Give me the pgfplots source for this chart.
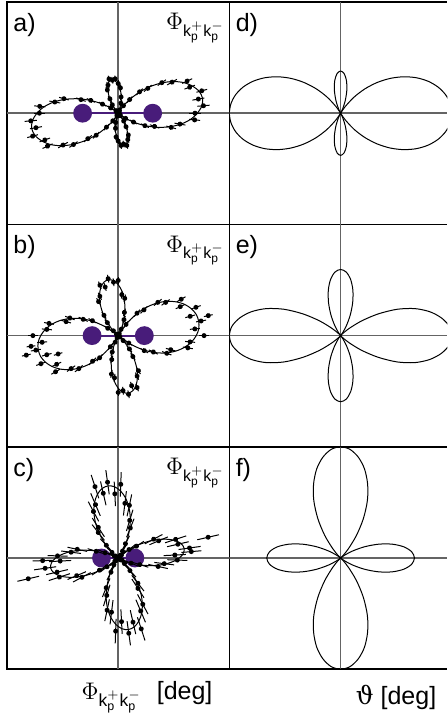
\documentclass[border=0pt]{standalone}
\usepackage{amsmath}
\usepackage{fontspec}
\setmainfont{Liberation Sans}
\newfontfamily\dvs{DejaVu Serif}
\usepackage{pgfplots}
\pgfplotsset{compat=1.18}
\definecolor{dumb}{RGB}{72,28,122}
\definecolor{cross}{RGB}{100,100,100}
\newdimen\ulen \ulen=55.6pt
\pgfdeclareplotmark{rbar}{%
  \pgftransformrotate{\ang}%
  \pgfpathmoveto{\pgfqpoint{-\err\ulen}{0pt}}%
  \pgfpathlineto{\pgfqpoint{\err\ulen}{0pt}}%
  \pgfusepathqstroke
  \pgfpathcircle{\pgfpointorigin}{1.25pt}%
  \pgfusepathqfill
}
\pgfplotsset{
  panel/.style={scale only axis, width=111.2pt, height=111.2pt,
    xmin=-1, xmax=1, ymin=-1, ymax=1, xtick=\empty, ytick=\empty,
    axis line style={line width=0.8pt, black}, clip=true},
  rpanel/.style={panel, width=108.98pt, xmax=0.96, axis x line*=box, axis y line*=left},
  fit/.style={black, line width=0.5pt, smooth, data cs=polar, mark=none},
  pts/.style={scatter, only marks, mark=rbar, data cs=polar, line width=0.5pt,
    scatter/use mapped color={draw=black, fill=black},
    visualization depends on={value \thisrow{t} \as \ang},
    visualization depends on={value \thisrow{e} \as \err}},
  crossl/.style={cross, line width=0.8pt},
}
\newcommand{\phisub}{$\Phi_{\text{k}^{+}_{\text{p}}\text{k}^{-}_{\text{p}}}$}
\newcommand{\lblfont}{\fontsize{12.5}{15}\selectfont}
\begin{document}
\begin{tikzpicture}
\useasboundingbox (0,0) rectangle (224pt,-357pt);
% ---------------- panel a
\begin{axis}[panel, at={(3.5pt,-1pt)}, anchor=north west]
\addplot[crossl] coordinates {(-1,0) (1,0)};
\addplot[crossl] coordinates {(0,-1) (0,1)};
\addplot[dumb, line width=1pt, mark=*, mark size=4.2pt, mark options={fill=dumb, draw=dumb}] coordinates {(-0.32,0) (0.31,0)};
\addplot[fit] coordinates {(-45,0) (-40,0.023) (-35,0.077) (-30,0.162) (-25,0.262) (-20,0.370) (-15,0.474) (-10,0.570) (-5,0.651) (0,0.712) (5,0.755) (10,0.770) (15,0.755) (20,0.712) (25,0.651) (30,0.570) (35,0.474) (40,0.370) (45,0.262) (50,0.162) (55,0.077) (60,0.023) (65,0)};
\addplot[fit] coordinates {(135,0) (140,0.024) (145,0.079) (150,0.166) (155,0.269) (160,0.379) (165,0.486) (170,0.585) (175,0.668) (180,0.731) (185,0.774) (190,0.790) (195,0.774) (200,0.731) (205,0.668) (210,0.585) (215,0.486) (220,0.379) (225,0.269) (230,0.166) (235,0.079) (240,0.024) (245,0)};
\addplot[fit] coordinates {(65,0) (70,0.032) (75,0.090) (80,0.154) (85,0.218) (90,0.272) (95,0.307) (100,0.320) (105,0.307) (110,0.272) (115,0.218) (120,0.154) (125,0.090) (130,0.032) (135,0)};
\addplot[fit] coordinates {(245,0) (250,0.030) (255,0.084) (260,0.144) (265,0.204) (270,0.255) (275,0.288) (280,0.300) (285,0.288) (290,0.255) (295,0.204) (300,0.144) (305,0.084) (310,0.030) (315,0)};
\addplot[pts] table {
t r e
-45 0.010 0.03
-40 0.022 0.03
-35 0.081 0.03
-30 0.159 0.035
-25 0.265 0.04
-20 0.348 0.045
-15 0.493 0.045
-10 0.564 0.05
-5 0.690 0.05
0 0.691 0.05
5 0.770 0.055
10 0.732 0.055
15 0.778 0.05
20 0.684 0.05
25 0.684 0.05
30 0.559 0.05
35 0.479 0.045
40 0.348 0.045
45 0.272 0.04
50 0.160 0.035
55 0.082 0.03
60 0.022 0.03
65 0.012 0.03
70 0.030 0.03
75 0.093 0.03
80 0.148 0.03
85 0.229 0.03
90 0.267 0.03
95 0.310 0.03
100 0.301 0.03
105 0.319 0.03
110 0.269 0.03
115 0.231 0.03
120 0.149 0.03
125 0.092 0.03
130 0.030 0.03
135 0.010 0.03
140 0.023 0.03
145 0.083 0.03
150 0.163 0.035
155 0.272 0.04
160 0.356 0.045
165 0.505 0.045
170 0.579 0.05
175 0.708 0.05
180 0.709 0.05
185 0.789 0.055
190 0.751 0.055
195 0.797 0.05
200 0.702 0.05
205 0.701 0.05
210 0.573 0.05
215 0.491 0.045
220 0.356 0.045
225 0.280 0.04
230 0.164 0.035
235 0.084 0.03
240 0.023 0.03
245 0.010 0.03
250 0.029 0.03
255 0.087 0.03
260 0.138 0.03
265 0.214 0.03
270 0.250 0.03
275 0.291 0.03
280 0.282 0.03
285 0.300 0.03
290 0.252 0.03
295 0.216 0.03
300 0.140 0.03
305 0.086 0.03
310 0.029 0.03
};
\node[anchor=north west, inner sep=0pt, font=\lblfont] at (rel axis cs:0,1) [xshift=3pt, yshift=-5.5pt] {a)};
\node[anchor=north east, inner sep=0pt, font=\fontsize{12}{14}\selectfont] at (rel axis cs:1,1) [xshift=-2pt, yshift=-5.5pt] {\phisub};
\end{axis}
% ---------------- panel b
\begin{axis}[panel, at={(3.5pt,-112.2pt)}, anchor=north west]
\addplot[crossl] coordinates {(-1,0) (1,0)};
\addplot[crossl] coordinates {(0,-1) (0,1)};
\addplot[dumb, line width=1pt, mark=*, mark size=4.2pt, mark options={fill=dumb, draw=dumb}] coordinates {(-0.235,0) (0.235,0)};
\addplot[fit] coordinates {(-40,0) (-35,0.125) (-30,0.250) (-25,0.360) (-20,0.456) (-15,0.537) (-10,0.606) (-5,0.662) (0,0.702) (5,0.728) (10,0.735) (15,0.728) (20,0.702) (25,0.662) (30,0.606) (35,0.537) (40,0.456) (45,0.360) (50,0.250) (55,0.125) (60,0)};
\addplot[fit] coordinates {(140,0) (145,0.124) (150,0.248) (155,0.358) (160,0.453) (165,0.533) (170,0.602) (175,0.657) (180,0.697) (185,0.723) (190,0.730) (195,0.723) (200,0.697) (205,0.657) (210,0.602) (215,0.533) (220,0.453) (225,0.358) (230,0.248) (235,0.124) (240,0)};
\addplot[fit] coordinates {(60,0) (65,0.066) (70,0.148) (75,0.235) (80,0.321) (85,0.398) (90,0.459) (95,0.497) (100,0.510) (105,0.497) (110,0.459) (115,0.398) (120,0.321) (125,0.235) (130,0.148) (135,0.066) (140,0)};
\addplot[fit] coordinates {(240,0) (245,0.068) (250,0.152) (255,0.242) (260,0.331) (265,0.410) (270,0.473) (275,0.512) (280,0.525) (285,0.512) (290,0.473) (295,0.410) (300,0.331) (305,0.242) (310,0.152) (315,0.068) (320,0)};
\addplot[pts] table {
t r e
-40 0.020 0.03
-35 0.116 0.035
-30 0.270 0.04
-25 0.349 0.045
-20 0.465 0.045
-15 0.489 0.045
-10 0.636 0.045
-5 0.649 0.045
0 0.772 0.045
5 0.692 0.045
10 0.757 0.045
15 0.670 0.045
20 0.744 0.045
25 0.616 0.045
30 0.654 0.045
35 0.521 0.045
40 0.465 0.045
45 0.328 0.045
50 0.263 0.04
55 0.123 0.035
60 0.020 0.03
65 0.063 0.03
70 0.152 0.035
75 0.216 0.035
80 0.340 0.035
85 0.370 0.035
90 0.496 0.035
95 0.482 0.035
100 0.520 0.035
105 0.452 0.035
110 0.482 0.035
115 0.390 0.035
120 0.353 0.035
125 0.223 0.035
130 0.152 0.035
135 0.061 0.03
140 0.020 0.03
145 0.115 0.035
150 0.268 0.04
155 0.347 0.045
160 0.462 0.045
165 0.485 0.045
170 0.632 0.045
175 0.644 0.045
180 0.767 0.045
185 0.687 0.045
190 0.752 0.045
195 0.665 0.045
200 0.739 0.045
205 0.611 0.045
210 0.650 0.045
215 0.517 0.045
220 0.462 0.045
225 0.326 0.045
230 0.260 0.04
235 0.122 0.035
240 0.020 0.03
245 0.065 0.03
250 0.157 0.035
255 0.223 0.035
260 0.351 0.035
265 0.381 0.035
270 0.511 0.035
275 0.497 0.035
280 0.536 0.035
285 0.466 0.035
290 0.497 0.035
295 0.402 0.035
300 0.364 0.035
305 0.230 0.035
310 0.157 0.035
315 0.063 0.03
12.5 0.830 0.04
197 0.565 0.04
192 0.845 0.04
187 0.790 0.04
};
\node[anchor=north west, inner sep=0pt, font=\lblfont] at (rel axis cs:0,1) [xshift=3pt, yshift=-5.5pt] {b)};
\node[anchor=north east, inner sep=0pt, font=\fontsize{12}{14}\selectfont] at (rel axis cs:1,1) [xshift=-2pt, yshift=-5.5pt] {\phisub};
\end{axis}
% ---------------- panel c
\begin{axis}[panel, at={(3.5pt,-223.4pt)}, anchor=north west]
\addplot[crossl] coordinates {(-1,0) (1,0)};
\addplot[crossl] coordinates {(0,-1) (0,1)};
\addplot[dumb, line width=1pt, mark=*, mark size=4.2pt, mark options={fill=dumb, draw=dumb}] coordinates {(-0.15,0) (0.15,0)};
\addplot[fit] coordinates {(-34,0) (-32,0.004) (-27,0.043) (-22,0.118) (-17,0.218) (-12,0.328) (-7,0.434) (-2,0.522) (3,0.580) (8,0.600) (13,0.580) (18,0.522) (23,0.434) (28,0.328) (33,0.218) (38,0.118) (43,0.043) (48,0.004) (50,0)};
\addplot[fit] coordinates {(146,0) (148,0.004) (153,0.044) (158,0.121) (163,0.223) (168,0.336) (173,0.445) (178,0.535) (183,0.594) (188,0.615) (193,0.594) (198,0.535) (203,0.445) (208,0.336) (213,0.223) (218,0.121) (223,0.044) (228,0.004) (230,0)};
\addplot[fit] coordinates {(50,0) (53,0.020) (58,0.072) (63,0.164) (68,0.269) (73,0.373) (78,0.465) (83,0.544) (88,0.603) (93,0.642) (98,0.655) (103,0.642) (108,0.603) (113,0.544) (118,0.465) (123,0.373) (128,0.269) (133,0.164) (138,0.072) (143,0.020) (146,0)};
\addplot[fit] coordinates {(230,0) (233,0.020) (238,0.072) (243,0.163) (248,0.267) (253,0.371) (258,0.462) (263,0.540) (268,0.598) (273,0.637) (278,0.650) (283,0.637) (288,0.598) (293,0.540) (298,0.462) (303,0.371) (308,0.267) (313,0.163) (318,0.072) (323,0.020) (326,0)};
\addplot[pts] table {
t r e
-32 0.020 0.05
-27 0.039 0.06
-22 0.124 0.07
-17 0.203 0.08
-12 0.367 0.09
-7 0.417 0.09
-2 0.532 0.09
3 0.510 0.10
8 0.648 0.10
13 0.551 0.10
18 0.543 0.10
23 0.395 0.09
28 0.361 0.09
33 0.196 0.08
38 0.124 0.07
43 0.040 0.06
48 0.020 0.05
53 0.030 0.05
58 0.073 0.06
63 0.144 0.08
68 0.291 0.09
73 0.354 0.10
78 0.484 0.10
83 0.495 0.11
88 0.663 0.11
93 0.578 0.11
98 0.688 0.11
103 0.597 0.11
108 0.675 0.11
113 0.522 0.11
118 0.474 0.10
123 0.328 0.10
128 0.291 0.09
133 0.156 0.08
138 0.075 0.06
143 0.030 0.05
148 0.020 0.05
153 0.040 0.06
158 0.127 0.07
163 0.207 0.08
168 0.376 0.09
173 0.427 0.09
178 0.546 0.09
183 0.523 0.10
188 0.664 0.10
193 0.564 0.10
198 0.556 0.10
203 0.405 0.09
208 0.370 0.09
213 0.201 0.08
218 0.127 0.07
223 0.041 0.06
228 0.020 0.05
233 0.030 0.05
238 0.073 0.06
243 0.143 0.08
248 0.288 0.09
253 0.352 0.10
258 0.480 0.10
263 0.491 0.11
268 0.658 0.11
273 0.573 0.11
278 0.683 0.11
283 0.592 0.11
288 0.670 0.11
293 0.518 0.11
298 0.471 0.10
303 0.326 0.10
308 0.288 0.09
313 0.155 0.08
318 0.075 0.06
323 0.030 0.05
13 0.830 0.10
193 0.830 0.10
182 0.680 0.09
5 0.660 0.09
};
\node[anchor=north west, inner sep=0pt, font=\lblfont] at (rel axis cs:0,1) [xshift=3pt, yshift=-5.5pt] {c)};
\node[anchor=north east, inner sep=0pt, font=\fontsize{12}{14}\selectfont] at (rel axis cs:1,1) [xshift=-2pt, yshift=-5.5pt] {\phisub};
\end{axis}
% ---------------- panel d
\begin{axis}[rpanel, at={(114.7pt,-1pt)}, anchor=north west]
\addplot[crossl] coordinates {(-1,0) (0.96,0)};
\addplot[crossl] coordinates {(0,-1) (0,1)};
\addplot[fit] coordinates {(-58.4,0) (-55,0.0745) (-50,0.1906) (-45,0.3103) (-40,0.4301) (-35,0.5462) (-30,0.6552) (-25,0.7537) (-20,0.8387) (-15,0.9076) (-10,0.9584) (-5,0.9895) (0,1) (5,0.9895) (10,0.9584) (15,0.9076) (20,0.8387) (25,0.7537) (30,0.6552) (35,0.5462) (40,0.4301) (45,0.3103) (50,0.1906) (55,0.0745) (58.4,0)};
\addplot[fit] coordinates {(121.6,0) (125,0.0745) (130,0.1906) (135,0.3103) (140,0.4301) (145,0.5462) (150,0.6552) (155,0.7537) (160,0.8387) (165,0.9076) (170,0.9584) (175,0.9895) (180,1) (185,0.9895) (190,0.9584) (195,0.9076) (200,0.8387) (205,0.7537) (210,0.6552) (215,0.5462) (220,0.4301) (225,0.3103) (230,0.1906) (235,0.0745) (238.4,0)};
\addplot[fit] coordinates {(58.4,0) (60,0.0031) (65,0.0466) (70,0.1252) (75,0.2170) (80,0.3007) (85,0.3586) (90,0.3793) (95,0.3586) (100,0.3007) (105,0.2170) (110,0.1252) (115,0.0466) (120,0.0031) (121.6,0)};
\addplot[fit] coordinates {(238.4,0) (240,0.0031) (245,0.0466) (250,0.1252) (255,0.2170) (260,0.3007) (265,0.3586) (270,0.3793) (275,0.3586) (280,0.3007) (285,0.2170) (290,0.1252) (295,0.0466) (300,0.0031) (301.6,0)};
\node[anchor=north west, inner sep=0pt, font=\lblfont] at (rel axis cs:0,1) [xshift=3pt, yshift=-5.5pt] {d)};
\end{axis}
% ---------------- panel e
\begin{axis}[rpanel, at={(114.7pt,-112.2pt)}, anchor=north west]
\addplot[crossl] coordinates {(-1,0) (0.96,0)};
\addplot[crossl] coordinates {(0,-1) (0,1)};
\addplot[fit] coordinates {(-48.7,0) (-45,0.025) (-40,0.10) (-35,0.23) (-30,0.39) (-25,0.56) (-20,0.71) (-15,0.83) (-10,0.92) (-5,0.98) (0,1) (5,0.98) (10,0.92) (15,0.83) (20,0.71) (25,0.56) (30,0.39) (35,0.23) (40,0.10) (45,0.025) (48.7,0)};
\addplot[fit] coordinates {(131.3,0) (135,0.025) (140,0.10) (145,0.23) (150,0.39) (155,0.56) (160,0.71) (165,0.83) (170,0.92) (175,0.98) (180,1) (185,0.98) (190,0.92) (195,0.83) (200,0.71) (205,0.56) (210,0.39) (215,0.23) (220,0.10) (225,0.025) (228.7,0)};
\addplot[fit] coordinates {(48.7,0) (50,0.0015) (55,0.0355) (60,0.1078) (65,0.2068) (70,0.3180) (75,0.4258) (80,0.5151) (85,0.5741) (90,0.5947) (95,0.5741) (100,0.5151) (105,0.4258) (110,0.3180) (115,0.2068) (120,0.1078) (125,0.0355) (130,0.0015) (131.3,0)};
\addplot[fit] coordinates {(228.7,0) (230,0.0015) (235,0.0355) (240,0.1078) (245,0.2068) (250,0.3180) (255,0.4258) (260,0.5151) (265,0.5741) (270,0.5947) (275,0.5741) (280,0.5151) (285,0.4258) (290,0.3180) (295,0.2068) (300,0.1078) (305,0.0355) (310,0.0015) (311.3,0)};
\node[anchor=north west, inner sep=0pt, font=\lblfont] at (rel axis cs:0,1) [xshift=3pt, yshift=-5.5pt] {e)};
\end{axis}
% ---------------- panel f
\begin{axis}[rpanel, at={(114.7pt,-223.4pt)}, anchor=north west]
\addplot[crossl] coordinates {(-1,0) (0.96,0)};
\addplot[crossl] coordinates {(0,-1) (0,1)};
\addplot[fit] coordinates {(42.1,0) (45,0.03) (50,0.11) (55,0.25) (60,0.41) (65,0.57) (70,0.71) (75,0.83) (80,0.92) (85,0.98) (90,1) (95,0.98) (100,0.92) (105,0.83) (110,0.71) (115,0.57) (120,0.41) (125,0.25) (130,0.11) (135,0.03) (137.9,0)};
\addplot[fit] coordinates {(222.1,0) (225,0.03) (230,0.11) (235,0.25) (240,0.41) (245,0.57) (250,0.71) (255,0.83) (260,0.92) (265,0.98) (270,1) (275,0.98) (280,0.92) (285,0.83) (290,0.71) (295,0.57) (300,0.41) (305,0.25) (310,0.11) (315,0.03) (317.9,0)};
\addplot[fit] coordinates {(-42.1,0) (-40,0.0042) (-35,0.0474) (-30,0.1304) (-25,0.2408) (-20,0.3631) (-15,0.4807) (-10,0.5779) (-5,0.6418) (0,0.664) (5,0.6418) (10,0.5779) (15,0.4807) (20,0.3631) (25,0.2408) (30,0.1304) (35,0.0474) (40,0.0042) (42.1,0)};
\addplot[fit] coordinates {(137.9,0) (140,0.0042) (145,0.0474) (150,0.1304) (155,0.2408) (160,0.3631) (165,0.4807) (170,0.5779) (175,0.6418) (180,0.664) (185,0.6418) (190,0.5779) (195,0.4807) (200,0.3631) (205,0.2408) (210,0.1304) (215,0.0474) (220,0.0042) (222.1,0)};
\node[anchor=north west, inner sep=0pt, font=\lblfont] at (rel axis cs:0,1) [xshift=3pt, yshift=-5.5pt] {f)};
\end{axis}
% ---------------- bottom labels
\node[font=\fontsize{12.5}{15}\selectfont] at (73.5pt,-348.5pt) {\phisub\hspace{0.6em}[deg]};
\node[font=\fontsize{12.5}{15}\selectfont] at (198pt,-348.5pt) {{\dvs ϑ} [deg]};
\end{tikzpicture}
\end{document}
